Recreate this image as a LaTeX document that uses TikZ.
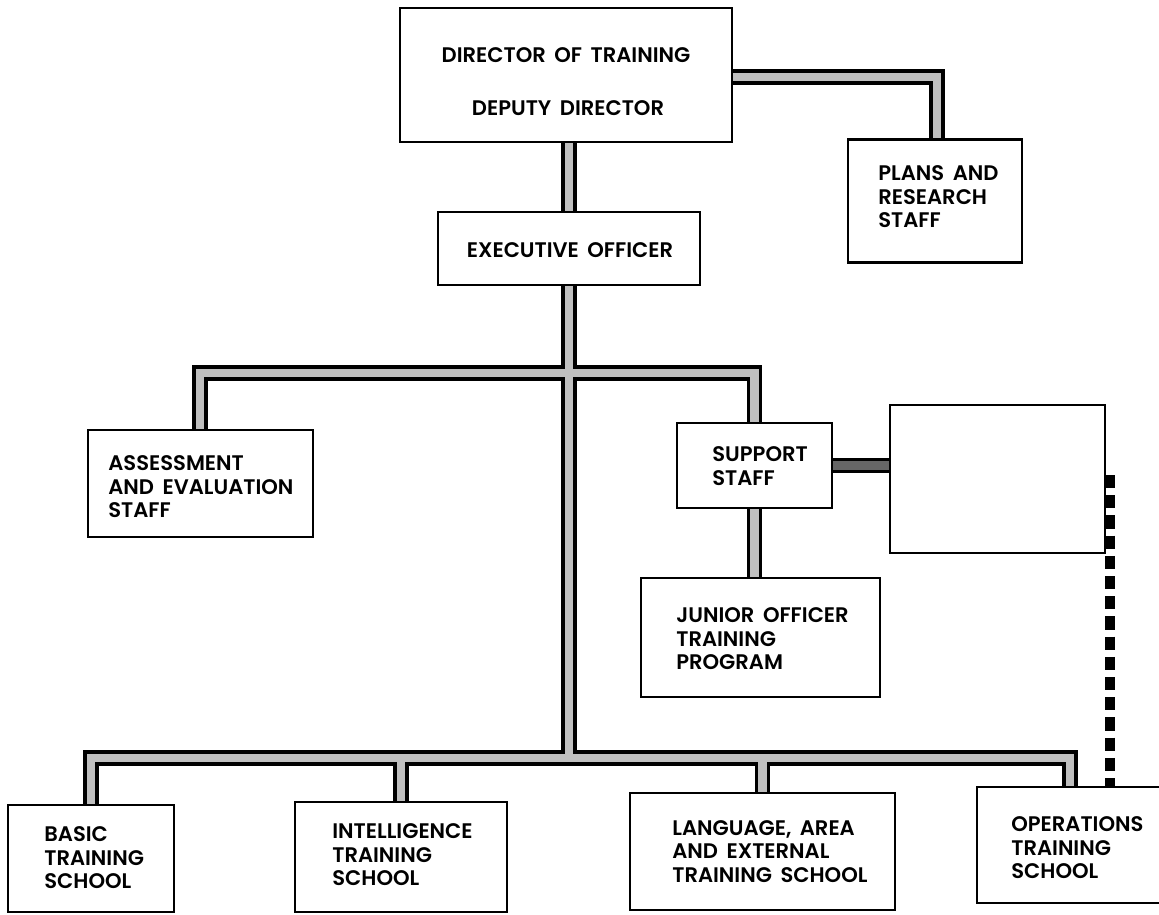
\documentclass[tikz,border=0pt]{standalone}
\usepackage{fontspec}
\setmainfont{Poppins}[WordSpace=1.7, BoldFont={Poppins SemiBold}]
\usetikzlibrary{calc}
\begin{document}
\begin{tikzpicture}[x=0.02cm,y=-0.02cm,
  box/.style={draw=black, line width=1.6pt, fill=white, inner sep=0pt},
  lbl/.style={inner sep=0pt, align=left, anchor=west, font=\fontsize{12pt}{13.4pt}\selectfont\bfseries},
  clbl/.style={inner sep=0pt, align=center, font=\fontsize{12pt}{13.4pt}\selectfont\bfseries},
  pipe/.style={draw=black!25, line width=4.6pt, line join=miter,
    preaction={draw=black, line width=8.6pt, line join=miter}},
  darkpipe/.style={draw=black!60, line width=4.6pt, line join=miter,
    preaction={draw=black, line width=8.6pt, line join=miter}},
  dashline/.style={draw=black, line width=6pt, dash pattern=on 7.5pt off 4pt}]
\path[use as bounding box, clip] (0,0) rectangle (1159,914);
% boxes
\node[box, minimum width=6.64cm, minimum height=2.68cm] (dir) at (566,75) {};
\node[box, minimum width=3.48cm, minimum height=2.46cm] (plans) at (935,201) {};
\node[box, minimum width=5.24cm, minimum height=1.46cm] (exec) at (569,248.5) {};
\node[box, minimum width=4.5cm, minimum height=2.14cm] (assess) at (200.5,483.5) {};
\node[box, minimum width=3.1cm, minimum height=1.7cm] (support) at (754.5,465.5) {};
\node[box, minimum width=4.3cm, minimum height=2.96cm] (empty) at (997.5,479) {};
\node[box, minimum width=4.78cm, minimum height=2.38cm] (junior) at (760.5,637.5) {};
\node[box, minimum width=3.32cm, minimum height=2.14cm] (basic) at (91,858.5) {};
\node[box, minimum width=4.24cm, minimum height=2.2cm] (intel) at (401,857) {};
\node[box, minimum width=5.3cm, minimum height=2.34cm] (lang) at (762.5,851.5) {};
\node[box, minimum width=4.06cm, minimum height=2.32cm] (ops) at (1078.5,845) {};
% helper coordinates
\coordinate (tr) at (569,0);
\coordinate (b1) at (0,373);
\coordinate (b2) at (0,758);
\coordinate (a1) at (200,0);
\coordinate (o1) at (1070,0);
\coordinate (p1) at (937,77);
\coordinate (dt) at (1110,475);
% connectors
\draw[pipe] (dir.south -| tr) -- (exec.north -| tr)
  (exec.south -| tr) -- (b2 -| tr)
  (assess.north -| a1) -- (b1 -| a1) -- (b1 -| support) -- (support.north)
  (support.south) -- (junior.north -| support.south)
  (basic.north) -- (b2 -| basic) -- (b2 -| o1) -- (ops.north -| o1)
  (intel.north) -- (intel.north |- b2)
  (lang.north) -- (lang.north |- b2);
\draw[pipe] (p1 -| dir.east) -- (p1) -- (plans.north -| p1);
\draw[darkpipe] (support.east) -- (empty.west |- support.east);
\draw[dashline] (dt) -- (ops.north -| dt);
% labels
\node[clbl] (dirT) at (566,55) {DIRECTOR OF TRAINING};
\node[clbl] (depT) at (568,108) {DEPUTY DIRECTOR};
\node[lbl] (plansT) at (878,197) {PLANS AND\\RESEARCH\\STAFF};
\node[clbl] (execT) at (570,250) {EXECUTIVE OFFICER};
\node[lbl] (assessT) at (108,487) {ASSESSMENT\\AND EVALUATION\\STAFF};
\node[lbl] (supportT) at (712,466) {SUPPORT\\STAFF};
\node[lbl] (juniorT) at (676,639) {JUNIOR OFFICER\\TRAINING\\PROGRAM};
\node[lbl] (basicT) at (44,858) {BASIC\\TRAINING\\SCHOOL};
\node[lbl] (intelT) at (332,855) {INTELLIGENCE\\TRAINING\\SCHOOL};
\node[lbl] (langT) at (672,851.5) {LANGUAGE, AREA\\AND EXTERNAL\\TRAINING SCHOOL};
\node[lbl] (opsT) at (1011,848) {OPERATIONS\\TRAINING\\SCHOOL};
\end{tikzpicture}
\end{document}
